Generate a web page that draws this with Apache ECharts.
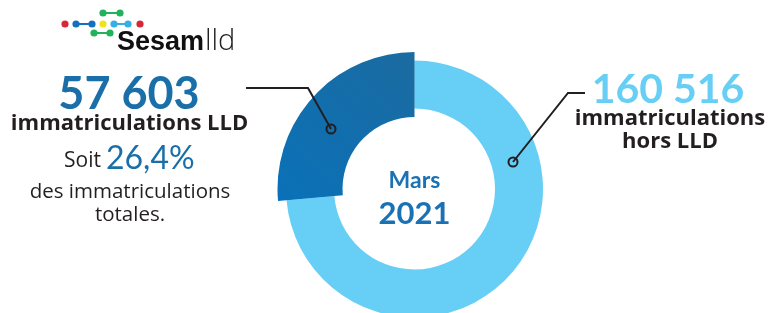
<!DOCTYPE html>
<html>
<head>
<meta charset="utf-8">
<script src="https://cdn.jsdelivr.net/npm/echarts@6/dist/echarts.min.js"></script>
<style>
  html, body { margin: 0; padding: 0; background: #fff; }
  #chart { width: 770px; height: 313px; }
</style>
</head>
<body>
<div id="chart"></div>
<script>
  // données
  var categories = ['immatriculations LLD', 'immatriculations hors LLD']
  var values = [57603, 160516]
  var periode = ['Mars', '2021']

  var darkBlue = '#1a6fa8'
  var lightBlue = '#67cff5'
  var textDark = '#231f20'
  var numFont = 'Lato'
  var font = '"Open Sans"'

  var total = values[0] + values[1]
  var pct = (values[0] / total * 100).toFixed(1).replace('.', ',') + '%'
  function fmt (v) {
    return String(v).replace(/\B(?=(\d{3})+(?!\d))/g, ' ')
  }

  var chart = echarts.init(document.getElementById('chart'))
  var cx = 414.5
  var cy = 189

  // logo Sesam lld
  var dots = [
    [65, 24, '#d9273a'], [76, 24, '#1670c0'], [92, 24, '#1670c0'], [103, 24, '#f2e21b'],
    [114, 24, '#36aee6'], [128, 24, '#36aee6'], [140, 24, '#d9273a'],
    [103, 13, '#21b35c'], [120, 13, '#21b35c'], [94, 33, '#21b35c'], [110, 33, '#21b35c']
  ]
  var links = [
    [76, 24, 92, 24, '#1670c0'], [114, 24, 128, 24, '#36aee6'],
    [103, 13, 120, 13, '#21b35c'], [94, 33, 110, 33, '#21b35c']
  ]
  var logo = []
  links.forEach(function (l) {
    logo.push({ type: 'line', shape: { x1: l[0], y1: l[1], x2: l[2], y2: l[3] }, style: { stroke: l[4], lineWidth: 2 } })
  })
  dots.forEach(function (d) {
    logo.push({ type: 'circle', shape: { cx: d[0], cy: d[1], r: 3.6 }, style: { fill: d[2] } })
  })
  logo.push({ type: 'text', x: 117, y: 56, style: { text: 'Sesam', font: 'bold 27px "Liberation Sans", Arial', fill: '#111', verticalAlign: 'bottom' } })
  logo.push({ type: 'text', x: 205, y: 56, style: { text: 'lld', font: '300 29px "Open Sans"', fill: '#222', verticalAlign: 'bottom' } })

  function txt (x, y, text, size, weight, color, align, family) {
    return {
      type: 'text', x: x, y: y,
      style: { text: text, font: weight + ' ' + size + 'px ' + (family || font), fill: color, align: align || 'center', verticalAlign: 'middle' }
    }
  }

  var annotations = logo.concat([
    // traits de rappel
    { type: 'polyline', shape: { points: [[246, 88], [308, 88], [331, 129]] }, style: { stroke: textDark, lineWidth: 2, fill: null } },
    { type: 'circle', shape: { cx: 331, cy: 129, r: 4.5 }, style: { fill: null, stroke: textDark, lineWidth: 2 } },
    { type: 'polyline', shape: { points: [[585, 93], [568, 93], [513, 162]] }, style: { stroke: textDark, lineWidth: 2, fill: null } },
    { type: 'circle', shape: { cx: 513, cy: 162, r: 4.5 }, style: { fill: null, stroke: textDark, lineWidth: 2 } },
    // textes gauche
    txt(129, 94, fmt(values[0]), 45, 'bold', darkBlue, 'center', numFont),
    txt(129.5, 124, categories[0], 22, 'bold', textDark),
    txt(101, 161, 'Soit', 21, 'normal', textDark, 'right'),
    txt(106, 159, pct, 32, 'normal', darkBlue, 'left', numFont),
    txt(130, 192, 'des immatriculations', 20.5, 'normal', textDark),
    txt(130, 215, 'totales.', 20.5, 'normal', textDark),
    // centre
    txt(cx, 181, periode[0], 23, 'bold', '#1a72b5', 'center', numFont),
    txt(cx, 214, periode[1], 31, 'bold', '#1a72b5', 'center', numFont),
    // textes droite
    txt(668, 90, fmt(values[1]), 41, 'bold', lightBlue, 'center', numFont),
    txt(670, 119, 'immatriculations', 22, 'bold', textDark),
    txt(670, 142, 'hors LLD', 22, 'bold', textDark)
  ])
  annotations.forEach(function (g) { g.z = 100 })

  chart.setOption({
    animation: false,
    series: [
      {
        type: 'pie',
        silent: true,
        center: [cx, cy],
        radius: [80.5, 128.5],
        startAngle: 90,
        clockwise: false,
        label: { show: false },
        data: [
          { name: categories[0], value: values[0], itemStyle: { color: lightBlue } },
          { name: categories[1], value: values[1], itemStyle: { color: lightBlue } }
        ]
      },
      {
        type: 'pie',
        silent: true,
        center: [cx, cy],
        radius: [72, 137],
        startAngle: 90,
        clockwise: false,
        label: { show: false },
        data: [
          {
            name: categories[0],
            value: values[0],
            itemStyle: {
              color: new echarts.graphic.LinearGradient(1, 0, 0, 1, [
                { offset: 0, color: '#1b6ba0' },
                { offset: 1, color: '#0a71b8' }
              ])
            }
          },
          { name: categories[1], value: values[1], itemStyle: { color: 'transparent' } }
        ]
      }
    ],
    graphic: annotations
  })
</script>
</body>
</html>
